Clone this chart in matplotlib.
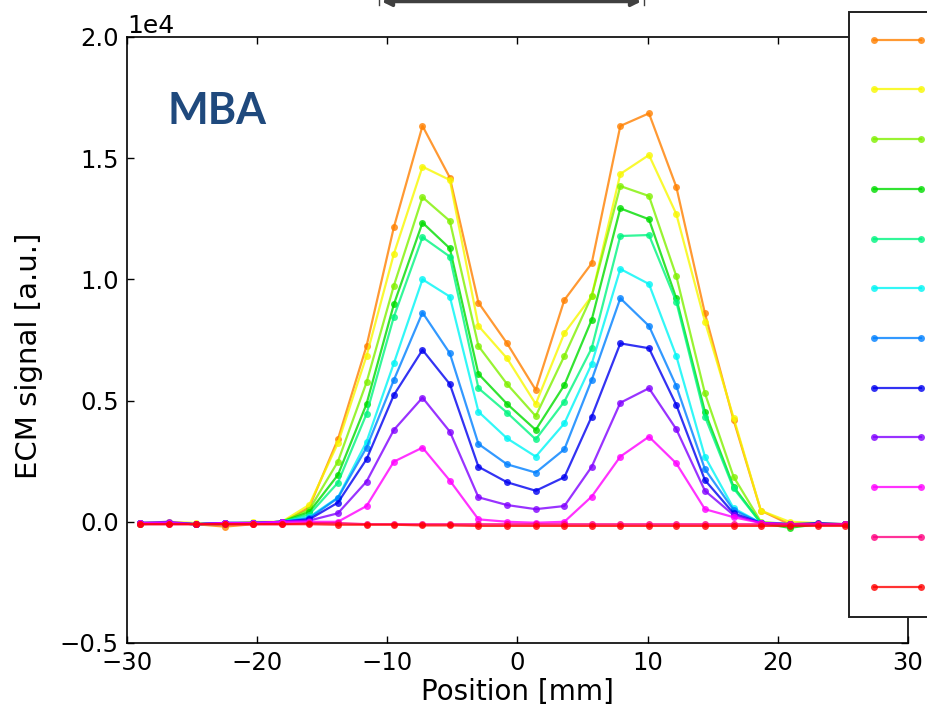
import numpy as np
import matplotlib
matplotlib.use("Agg")
import matplotlib.pyplot as plt
from matplotlib.patches import FancyArrowPatch


# scan positions along the profile [mm]
POSITION = [-29.0, -26.8, -24.7, -22.5, -20.3, -18.1, -16.0, -13.8, -11.6, -9.5,
            -7.3, -5.2, -3.0, -0.8, 1.4, 3.6, 5.7, 7.9, 10.1, 12.2,
            14.4, 16.6, 18.7, 20.9, 23.1, 25.2, 27.4, 29.6]

# ECM signal per curve, in units of 1e4
ORANGE = [-0.01, -0.005, -0.01, -0.02, -0.01, -0.005, 0.06, 0.34, 0.725, 1.215,
          1.633, 1.42, 0.904, 0.736, 0.544, 0.915, 1.066, 1.633, 1.685, 1.382,
          0.86, 0.42, 0.046, -0.01, -0.01, -0.01, -0.01, -0.01]
YELLOW = [-0.005, 0.0, -0.005, -0.01, 0.0, 0.0, 0.07, 0.324, 0.684, 1.105,
          1.465, 1.41, 0.808, 0.674, 0.486, 0.778, 0.931, 1.435, 1.513, 1.27,
          0.826, 0.43, 0.046, 0.0, -0.005, -0.01, -0.01, -0.01]
YELLOWGREEN = [-0.005, -0.005, -0.01, -0.005, -0.005, 0.0, 0.05, 0.248, 0.575, 0.974,
               1.339, 1.241, 0.725, 0.568, 0.436, 0.684, 0.931, 1.385, 1.344, 1.014,
               0.53, 0.186, 0.0, -0.01, -0.01, -0.01, -0.01, -0.01]
GREEN = [-0.01, -0.005, -0.01, -0.005, -0.005, 0.0, 0.04, 0.193, 0.486, 0.897,
         1.234, 1.128, 0.61, 0.486, 0.379, 0.564, 0.833, 1.293, 1.248, 0.922,
         0.454, 0.145, -0.005, -0.025, -0.01, -0.01, -0.01, -0.01]
SPRINGGREEN = [-0.005, -0.005, -0.01, -0.01, -0.005, 0.0, 0.03, 0.161, 0.445, 0.846,
               1.174, 1.094, 0.551, 0.45, 0.34, 0.496, 0.716, 1.179, 1.183, 0.908,
               0.434, 0.138, -0.005, -0.01, -0.01, -0.01, -0.01, -0.01]
CYAN = [-0.005, -0.005, -0.01, -0.005, -0.005, 0.0, 0.02, 0.1, 0.33, 0.654,
        1.0, 0.929, 0.454, 0.344, 0.269, 0.406, 0.651, 1.043, 0.981, 0.684,
        0.269, 0.056, -0.005, -0.01, -0.01, -0.01, -0.01, -0.01]
DODGERBLUE = [-0.005, -0.005, -0.01, -0.005, -0.005, 0.0, 0.015, 0.098, 0.306, 0.585,
              0.863, 0.695, 0.321, 0.237, 0.203, 0.299, 0.585, 0.922, 0.808, 0.56,
              0.217, 0.049, -0.005, -0.01, -0.01, -0.01, -0.01, -0.01]
BLUE = [-0.005, -0.005, -0.01, -0.005, -0.005, 0.0, 0.01, 0.079, 0.258, 0.523,
        0.709, 0.568, 0.227, 0.163, 0.128, 0.184, 0.434, 0.736, 0.716, 0.482,
        0.172, 0.035, -0.005, -0.01, -0.005, -0.01, -0.01, -0.01]
PURPLE = [-0.005, 0.0, -0.01, -0.005, -0.005, 0.0, 0.005, 0.035, 0.166, 0.379,
          0.512, 0.372, 0.101, 0.069, 0.052, 0.065, 0.227, 0.491, 0.551, 0.382,
          0.128, 0.028, -0.005, -0.01, -0.01, -0.01, -0.01, -0.01]
MAGENTA = [-0.005, -0.005, -0.01, -0.005, -0.005, 0.0, 0.0, 0.0, 0.065, 0.248,
           0.306, 0.17, 0.01, 0.0, -0.004, 0.0, 0.104, 0.269, 0.351, 0.241,
           0.052, 0.019, -0.005, -0.01, -0.01, -0.01, -0.01, -0.01]
PINK = [-0.01, -0.01, -0.01, -0.01, -0.01, -0.01, -0.005, -0.005, -0.01, -0.01,
        -0.01, -0.01, -0.01, -0.01, -0.01, -0.01, -0.01, -0.01, -0.01, -0.01,
        -0.01, -0.01, -0.01, -0.01, -0.01, -0.01, -0.01, -0.01]
RED = [-0.01, -0.01, -0.01, -0.01, -0.01, -0.01, -0.01, -0.012, -0.012, -0.012,
       -0.015, -0.015, -0.017, -0.017, -0.017, -0.017, -0.017, -0.017, -0.017, -0.017,
       -0.017, -0.017, -0.017, -0.017, -0.017, -0.017, -0.017, -0.017]

SERIES = [ORANGE, YELLOW, YELLOWGREEN, GREEN, SPRINGGREEN, CYAN,
          DODGERBLUE, BLUE, PURPLE, MAGENTA, PINK, RED]
COLORS = ["#ff8000", "#f8f800", "#80f000", "#00dc00", "#00f580", "#00f5f5",
          "#0080ff", "#0000f0", "#8000ff", "#ff00ff", "#ff0080", "#ff0000"]

SCALE = 1e4


def main():
    fig = plt.figure(figsize=(9.28, 7.10), dpi=100)
    ax = fig.add_axes([0.1369, 0.0944, 0.8415, 0.8535])

    handles = []
    for values, color in zip(SERIES, COLORS):
        line, = ax.plot(POSITION, np.array(values) * SCALE, color=color,
                        marker="o", markersize=5, markeredgewidth=0,
                        linewidth=1.6, alpha=0.8)
        handles.append(line)

    ax.set_xlim(-30, 30)
    ax.set_ylim(-0.5e4, 2.0e4)
    ax.set_yticks(np.arange(-0.5, 2.01, 0.5) * SCALE)
    ax.ticklabel_format(axis="y", style="sci", scilimits=(0, 0))
    ax.yaxis.get_offset_text().set_fontsize(18)
    ax.tick_params(direction="in", top=True, right=True, length=5,
                   width=1, labelsize=17.5, pad=6)
    for spine in ax.spines.values():
        spine.set_linewidth(1.2)

    ax.set_xlabel("Position [mm]", fontsize=20, labelpad=2)
    ax.set_ylabel("ECM signal [a.u.]", fontsize=21)
    ax.yaxis.set_label_coords(-0.108, 0.474)

    fig.text(168 / 928, 1 - 124 / 710, "MBA", fontsize=31, fontweight="bold",
             family="Lato", color="#1f497d", ha="left", va="baseline")

    # the legend box runs past the right edge, only the line keys show
    leg = ax.legend(handles, [""] * len(handles), loc="upper left",
                    bbox_to_anchor=(849 / 928, 1 - 12 / 710),
                    bbox_transform=fig.transFigure, borderaxespad=0,
                    numpoints=2, fontsize=14, handlelength=3.0,
                    handletextpad=1.0, labelspacing=1.58, borderpad=1.0,
                    fancybox=False, framealpha=1)
    leg.get_frame().set_edgecolor("#202020")
    leg.get_frame().set_linewidth(1.4)
    for h in leg.legend_handles:
        h.set_alpha(0.8)

    # dimension arrow running along the top edge
    arrow = FancyArrowPatch((379 / 928, 1 - 1.5 / 710), (644 / 928, 1 - 1.5 / 710),
                            transform=fig.transFigure, arrowstyle="<|-|>",
                            mutation_scale=14, color="#404040", linewidth=2.5)
    fig.add_artist(arrow)
    for xp in (379, 644):
        fig.add_artist(plt.Line2D([xp / 928, xp / 928], [1, 1 - 5 / 710],
                                  transform=fig.transFigure,
                                  color="#404040", linewidth=1))

    fig.savefig("out.png", dpi=100)


if __name__ == "__main__":
    main()
